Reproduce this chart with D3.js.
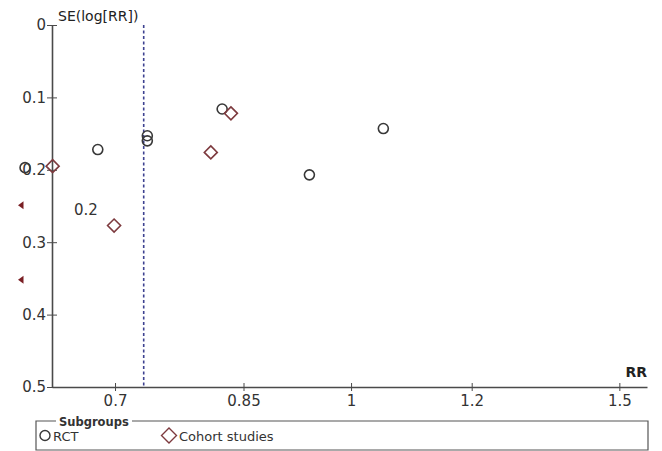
<!DOCTYPE html>
<html>
<head>
<meta charset="utf-8">
<script src="https://cdn.jsdelivr.net/npm/d3@7"></script>
<style>
  html, body { margin: 0; padding: 0; background: #fff; }
  svg { display: block; }
  text { font-family: "DejaVu Sans", Verdana, sans-serif; }
</style>
</head>
<body>
<svg id="chart" width="662" height="451"></svg>
<script>
// Funnel plot: risk ratio (log scale) vs standard error of log(RR)
const rctRR   = [0.611, 0.682, 0.735, 0.735, 0.823, 0.939, 1.05];
const rctSE   = [0.197, 0.172, 0.153, 0.160, 0.116, 0.207, 0.143];
const cohortRR = [0.637, 0.699, 0.809, 0.834];
const cohortSE = [0.195, 0.277, 0.176, 0.122];
// studies whose RR lies below the plotted range (shown as arrows)
const offScaleSE = [0.249, 0.352];
const pooledRR = 0.731;
const xTicks = [0.7, 0.85, 1, 1.2, 1.5];
const yTicks = [0, 0.1, 0.2, 0.3, 0.4, 0.5];
const subgroups = ["RCT", "Cohort studies"];

const svg = d3.select("#chart");
const axisColor = "#4a4a4a";
const circleColor = "#383838";
const diamondColor = "#7d3a3e";

const x = d3.scaleLog().domain([0.6364, 1.564]).range([52, 647]);
const y = d3.scaleLinear().domain([0, 0.5]).range([25, 387]);

// pooled estimate line
svg.append("line")
  .attr("x1", x(pooledRR)).attr("x2", x(pooledRR))
  .attr("y1", y(0)).attr("y2", y(0.5))
  .attr("stroke", "#3d4190").attr("stroke-width", 1.6)
  .attr("stroke-dasharray", "3,2.5");

// x axis
const gx = svg.append("g")
  .attr("transform", `translate(0,${y(0.5)})`)
  .call(d3.axisBottom(x).tickValues(xTicks).tickFormat(d => String(d)).tickSizeOuter(0));
gx.select(".domain").attr("stroke", axisColor).attr("stroke-width", 1.6);
gx.selectAll(".tick line").attr("y1", -4).attr("y2", 4).attr("stroke", axisColor);
gx.selectAll(".tick text").attr("y", 8).attr("font-size", 15).attr("fill", "#333")
  .attr("font-family", "DejaVu Sans, sans-serif");

// y axis
const gy = svg.append("g")
  .attr("transform", `translate(${x.range()[0]},0)`)
  .call(d3.axisLeft(y).tickValues(yTicks).tickFormat(d => d === 0 ? "0" : d3.format(".1f")(d)).tickSizeOuter(0));
gy.select(".domain").attr("stroke", axisColor).attr("stroke-width", 1.6);
gy.selectAll(".tick line").attr("x1", -5).attr("x2", 5).attr("stroke", axisColor);
gy.selectAll(".tick text").attr("x", -6).attr("font-size", 15).attr("fill", "#333")
  .attr("font-family", "DejaVu Sans, sans-serif");

// axis titles
svg.append("text").attr("x", 58).attr("y", 21)
  .attr("font-size", 14).attr("fill", "#222").text("SE(log[RR])");
svg.append("text").attr("x", 647).attr("y", 377).attr("text-anchor", "end")
  .attr("font-size", 14).attr("font-weight", "bold").attr("fill", "#222").text("RR");

// stray value label inside the plot
svg.append("text").attr("x", 86).attr("y", 215).attr("text-anchor", "middle")
  .attr("font-size", 15).attr("fill", "#333").text("0.2");

// RCT points
svg.append("g").selectAll("circle").data(rctRR).join("circle")
  .attr("cx", d => x(d)).attr("cy", (d, i) => y(rctSE[i]))
  .attr("r", 5).attr("fill", "none")
  .attr("stroke", circleColor).attr("stroke-width", 1.6);

// cohort points
const diamond = (cx, cy, r) => `M${cx},${cy - r}L${cx + r},${cy}L${cx},${cy + r}L${cx - r},${cy}Z`;
svg.append("g").selectAll("path").data(cohortRR).join("path")
  .attr("d", (d, i) => diamond(x(d), y(cohortSE[i]), 6.5))
  .attr("fill", "none").attr("stroke", diamondColor).attr("stroke-width", 1.6);

// off-scale arrows at the left
svg.append("g").selectAll("path").data(offScaleSE).join("path")
  .attr("d", d => { const cx = x.range()[0] - 31, cy = y(d); return `M${cx - 3},${cy}L${cx + 2.5},${cy - 4}L${cx + 2.5},${cy + 4}Z`; })
  .attr("fill", "#7a1f24");

// legend
const lg = svg.append("g");
const lx0 = 36, lx1 = 648, ly0 = 421, ly1 = 450;
lg.append("path")
  .attr("d", `M56,${ly0}H${lx0}V${ly1}H${lx1}V${ly0}H132`)
  .attr("fill", "none").attr("stroke", "#555").attr("stroke-width", 1.2);
lg.append("text").attr("x", 59).attr("y", 426)
  .attr("font-size", 11.5).attr("font-weight", "bold").attr("fill", "#333").text("Subgroups");
lg.append("circle").attr("cx", 45).attr("cy", 435.5).attr("r", 5)
  .attr("fill", "none").attr("stroke", circleColor).attr("stroke-width", 1.4);
lg.append("text").attr("x", 53).attr("y", 440.5).attr("font-size", 13).attr("fill", "#333").text(subgroups[0]);
lg.append("path").attr("d", diamond(169, 435.5, 7.5))
  .attr("fill", "none").attr("stroke", diamondColor).attr("stroke-width", 1.4);
lg.append("text").attr("x", 179).attr("y", 440.5).attr("font-size", 13).attr("fill", "#333").text(subgroups[1]);
</script>
</body>
</html>
